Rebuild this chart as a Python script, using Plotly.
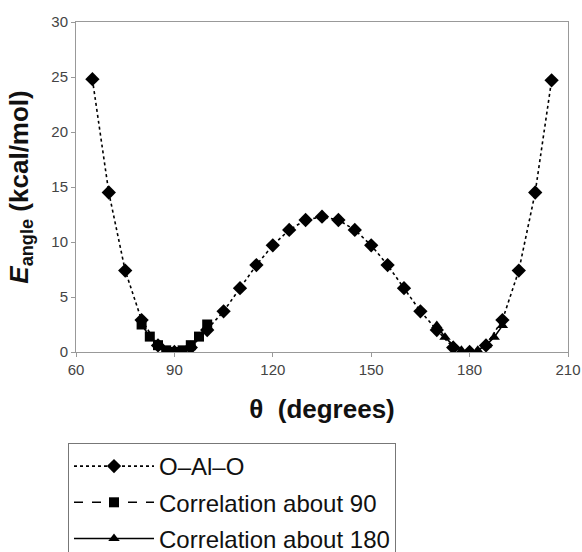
import plotly.graph_objects as go

# O-Al-O angle energy
theta_oalo = [65, 70, 75, 80, 85, 90, 95, 100, 105, 110, 115, 120, 125, 130, 135,
              140, 145, 150, 155, 160, 165, 170, 175, 180, 185, 190, 195, 200, 205]
e_oalo = [24.8, 14.5, 7.4, 2.9, 0.6, 0.0, 0.4, 2.0, 3.7, 5.8, 7.9, 9.7, 11.1, 12.0, 12.3,
          12.0, 11.1, 9.7, 7.9, 5.8, 3.7, 2.0, 0.4, 0.0, 0.6, 2.9, 7.4, 14.5, 24.7]

# Correlation about 90
theta_c90 = [80, 82.5, 85, 87.5, 90, 92.5, 95, 97.5, 100]
e_c90 = [2.5, 1.4, 0.62, 0.15, 0.0, 0.15, 0.62, 1.4, 2.5]

# Correlation about 180
theta_c180 = [170, 172.5, 175, 177.5, 180, 182.5, 185, 187.5, 190]
e_c180 = [2.4, 1.35, 0.6, 0.15, 0.0, 0.15, 0.6, 1.35, 2.4]

x_ticks = [60, 90, 120, 150, 180, 210]
y_ticks = [0, 5, 10, 15, 20, 25, 30]

fig = go.Figure()
fig.add_trace(go.Scatter(
    x=theta_oalo, y=e_oalo, mode="lines+markers", name="O\u2013Al\u2013O",
    legendgroup="a",
    line=dict(color="black", width=1.6, dash="dot"),
    marker=dict(symbol="diamond", size=11, color="black"),
))
fig.add_trace(go.Scatter(
    x=theta_c90, y=e_c90, mode="lines+markers", name="Correlation about 90",
    legendgroup="b",
    line=dict(color="black", width=1.6, dash="dash"),
    marker=dict(symbol="square", size=10, color="black"),
))
fig.add_trace(go.Scatter(
    x=theta_c180, y=e_c180, mode="lines+markers", name="Correlation about 180",
    legendgroup="c",
    line=dict(color="black", width=1.6),
    marker=dict(symbol="triangle-up", size=10, color="black"),
))

fig.update_layout(
    width=582, height=552,
    margin=dict(l=76, r=14, t=22, b=200),
    paper_bgcolor="white", plot_bgcolor="white",
    font=dict(family="Liberation Sans, Arial, sans-serif", color="#222"),
    showlegend=True,
    legend=dict(
        xref="paper", yref="container",
        x=-8 / 492, y=1 - 443 / 552, xanchor="left", yanchor="top",
        bordercolor="#777", borderwidth=1, bgcolor="white",
        font=dict(size=24, color="#111"),
        itemwidth=80,
        tracegroupgap=2,
    ),
    xaxis=dict(
        range=[60, 210], tickvals=x_ticks, ticktext=[str(v) for v in x_ticks],
        showgrid=False, zeroline=False, automargin=False,
        showline=True, linecolor="#999", linewidth=1, mirror=True,
        ticks="outside", ticklen=4, tickcolor="#999",
        tickfont=dict(size=15, color="#444"),
        title=dict(text="<b>\u03b8  (degrees)</b>", font=dict(size=26, color="#111"), standoff=22),
    ),
    yaxis=dict(
        range=[0, 30], tickvals=y_ticks, ticktext=[str(v) for v in y_ticks],
        showgrid=False, zeroline=False, automargin=False,
        showline=True, linecolor="#999", linewidth=1, mirror=True,
        ticks="outside", ticklen=4, tickcolor="#999",
        tickfont=dict(size=15, color="#444"),
        title=dict(text="<b><i>E</i><sub>angle</sub> (kcal/mol)</b>", font=dict(size=26, color="#111"), standoff=15),
    ),
)

fig.write_html("out.html", config={"displayModeBar": False},
               post_script="document.body.style.margin='0';")
